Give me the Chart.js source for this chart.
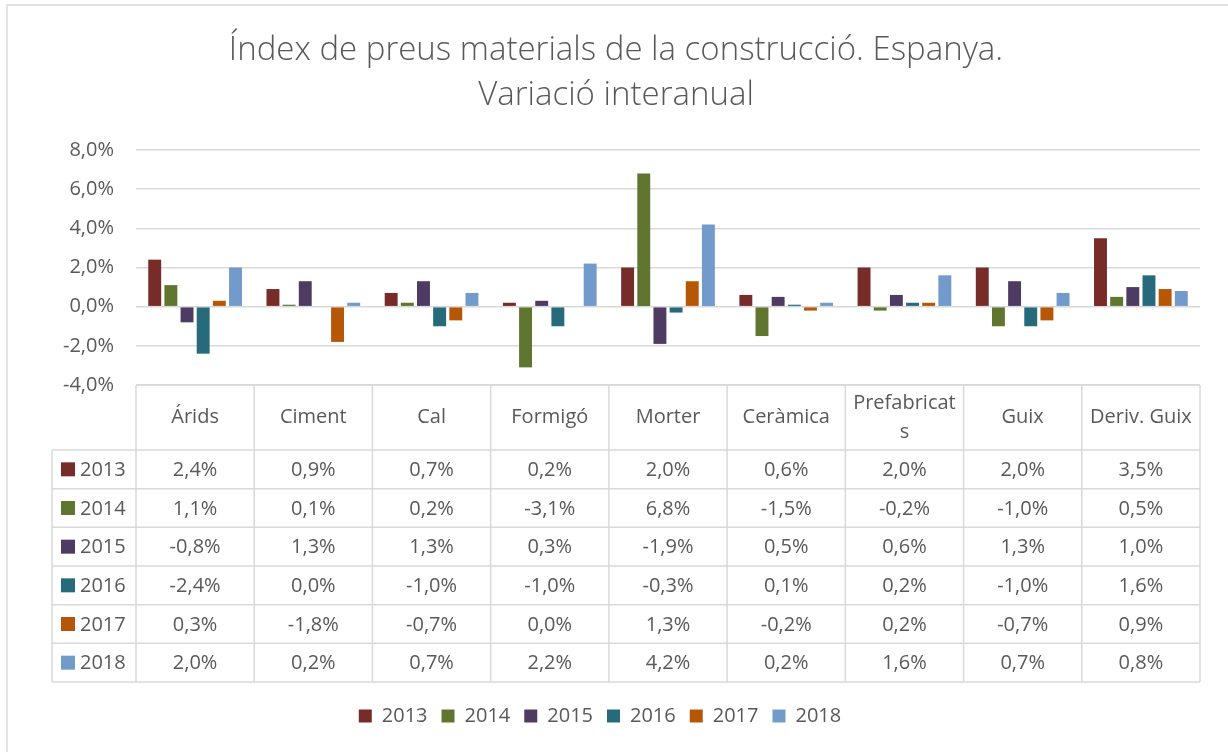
<!DOCTYPE html>
<html>
<head>
<meta charset="utf-8">
<script src="https://cdn.jsdelivr.net/npm/chart.js@4"></script>
<style>
  html, body { margin: 0; padding: 0; background: #fff; }
  #wrap { width: 1228px; height: 752px; }
</style>
</head>
<body>
<div id="wrap"><canvas id="chart" width="1228" height="752"></canvas></div>
<script>
const TITLE = ["Índex de preus materials de la construcció. Espanya.", "Variació interanual"];
const categories = ["Árids", "Ciment", "Cal", "Formigó", "Morter", "Ceràmica", ["Prefabricat", "s"], "Guix", "Deriv. Guix"];
const years = ["2013", "2014", "2015", "2016", "2017", "2018"];
const v2013 = [2.4, 0.9, 0.7, 0.2, 2.0, 0.6, 2.0, 2.0, 3.5];
const v2014 = [1.1, 0.1, 0.2, -3.1, 6.8, -1.5, -0.2, -1.0, 0.5];
const v2015 = [-0.8, 1.3, 1.3, 0.3, -1.9, 0.5, 0.6, 1.3, 1.0];
const v2016 = [-2.4, 0.0, -1.0, -1.0, -0.3, 0.1, 0.2, -1.0, 1.6];
const v2017 = [0.3, -1.8, -0.7, 0.0, 1.3, -0.2, 0.2, -0.7, 0.9];
const v2018 = [2.0, 0.2, 0.7, 2.2, 4.2, 0.2, 1.6, 0.7, 0.8];
const yTicks = [-4, -2, 0, 2, 4, 6, 8];

const seriesValues = [v2013, v2014, v2015, v2016, v2017, v2018];
const COLORS = ["#772c2a", "#5f7530", "#4d3b62", "#276a7c", "#b65708", "#729aca"];
const TEXT = "#595959";
const GRID = "#d9d9d9";
const FONT = "'Open Sans', 'Noto Sans', sans-serif";

const pct = (v) => (Math.abs(v) < 0.05 ? 0 : v).toFixed(1).replace(".", ",") + "%";

const HEADER_H = 65;
const TABLE_H = 297;
const LEGEND_GAP = 10;
const LABEL_COL = 84;

const frameAndTable = {
  id: "frameAndTable",
  beforeDraw(chart) {
    const { ctx } = chart;
    ctx.save();
    ctx.strokeStyle = GRID;
    ctx.lineWidth = 1.5;
    ctx.strokeRect(7, 5, 1240, 770);
    ctx.fillStyle = TEXT;
    ctx.textAlign = "center";
    ctx.textBaseline = "middle";
    ctx.font = `300 33px ${FONT}`;
    ctx.fillText(TITLE[0], 616, 51);
    ctx.fillText(TITLE[1], 616, 96);
    ctx.restore();
  },
  afterDraw(chart) {
    const { ctx, chartArea: a } = chart;
    const colW = (a.right - a.left) / categories.length;
    const top = a.bottom;
    const headBottom = top + HEADER_H;
    const bottom = top + TABLE_H;
    const rowH = (bottom - headBottom) / years.length;
    const labelLeft = a.left - LABEL_COL;

    ctx.save();
    ctx.strokeStyle = GRID;
    ctx.lineWidth = 1.5;
    ctx.beginPath();
    ctx.moveTo(a.left, top);
    ctx.lineTo(a.right, top);
    for (let r = 0; r <= years.length; r++) {
      const y = headBottom + r * rowH;
      ctx.moveTo(labelLeft, y);
      ctx.lineTo(a.right, y);
    }
    for (let i = 0; i <= categories.length; i++) {
      const x = a.left + i * colW;
      ctx.moveTo(x, top);
      ctx.lineTo(x, bottom);
    }
    ctx.moveTo(labelLeft, headBottom);
    ctx.lineTo(labelLeft, bottom);
    ctx.stroke();

    ctx.fillStyle = TEXT;
    ctx.font = `20px ${FONT}`;
    ctx.textAlign = "center";
    ctx.textBaseline = "middle";
    categories.forEach((c, i) => {
      const cx = a.left + (i + 0.5) * colW;
      const lines = Array.isArray(c) ? c : [c];
      const lh = 29;
      lines.forEach((t, k) => {
        ctx.fillText(t, cx, top + HEADER_H / 2 + (k - (lines.length - 1) / 2) * lh);
      });
    });

    years.forEach((yr, r) => {
      const cy = headBottom + (r + 0.5) * rowH;
      ctx.fillStyle = COLORS[r];
      ctx.fillRect(labelLeft + 9, cy - 7, 14, 14);
      ctx.fillStyle = TEXT;
      ctx.textAlign = "left";
      ctx.fillText(yr, labelLeft + 28, cy + 1);
      ctx.textAlign = "center";
      seriesValues[r].forEach((v, i) => {
        ctx.fillText(pct(v), a.left + (i + 0.5) * colW, cy + 1);
      });
    });
    ctx.restore();
  },
};

new Chart(document.getElementById("chart"), {
  type: "bar",
  data: {
    labels: categories,
    datasets: years.map((yr, i) => ({
      label: yr,
      data: seriesValues[i],
      backgroundColor: COLORS[i],
      borderWidth: 0,
      categoryPercentage: 0.82,
      barPercentage: 0.8,
    })),
  },
  options: {
    responsive: false,
    animation: false,
    events: [],
    layout: { padding: { top: 150, left: 0, right: 28, bottom: 16 } },
    scales: {
      x: {
        grid: { display: false },
        border: { display: false },
        ticks: { display: false },
        afterFit: (s) => { s.height = TABLE_H + LEGEND_GAP; },
      },
      y: {
        min: -4,
        max: 8,
        afterBuildTicks: (s) => { s.ticks = yTicks.map((v) => ({ value: v })); },
        afterFit: (s) => { s.width = 136; },
        grid: { color: GRID, lineWidth: 1.5, drawTicks: false },
        border: { display: false },
        ticks: {
          color: TEXT,
          padding: 22,
          font: { family: FONT, size: 20 },
          callback: (v) => pct(v),
        },
      },
    },
    plugins: {
      title: { display: false },
      tooltip: { enabled: false },
      legend: {
        position: "bottom",
        labels: {
          color: TEXT,
          font: { family: FONT, size: 20 },
          boxWidth: 13,
          boxHeight: 13,
          padding: 14,
        },
      },
    },
  },
  plugins: [frameAndTable],
});
</script>
</body>
</html>
